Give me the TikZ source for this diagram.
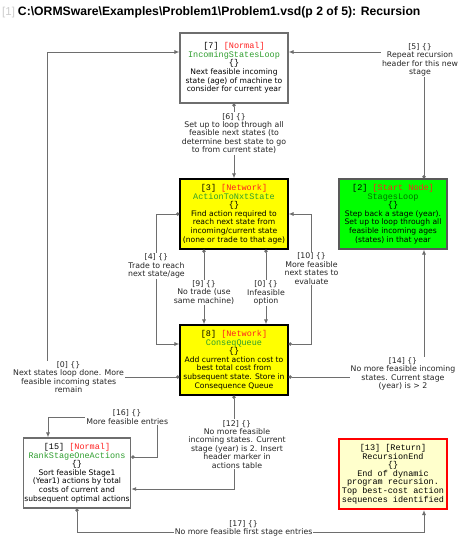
\documentclass[tikz,border=0pt]{standalone}
\usepackage{fontspec}
\setmainfont{DejaVu Sans}
\setmonofont{Liberation Mono}
\newfontfamily\titlefont{Liberation Sans}
\usetikzlibrary{arrows.meta,positioning,calc}

\definecolor{netyellow}{HTML}{FFFF00}
\definecolor{startgreen}{HTML}{00FF00}
\definecolor{retcream}{HTML}{FFFFCC}
\definecolor{namegreen}{HTML}{2E9E2E}
\definecolor{tagred}{HTML}{FF2020}
\definecolor{linegray}{HTML}{6E6E6E}

\newcommand{\mono}[1]{{\ttfamily\fontsize{8.5}{8.6}\selectfont #1}}

\begin{document}
\begin{tikzpicture}[x=1pt, y=-1pt, node distance=146pt,
  box/.style={rectangle, draw=linegray, line width=1.1pt, fill=white, minimum width=108pt, minimum height=70pt, align=center, inner sep=1pt, font=\fontsize{7.6}{8.6}\selectfont},
  netbox/.style={box, draw=black, fill=netyellow},
  startbox/.style={box, draw=gray!70!black, fill=startgreen},
  retbox/.style={box, draw=red, line width=2pt, fill=retcream},
  conn/.style={draw=linegray, line width=0.9pt, {Circle[length=3.4pt]}-{Latex[length=5pt,width=4pt]}},
  lbl/.style={fill=white, align=center, inner sep=0.8pt, text=black!85, font=\fontsize{7.8}{8.4}\selectfont}]

  \useasboundingbox (0,0) rectangle (460,538);

  \node[anchor=west, inner sep=0pt] (title) at (2,12) {\titlefont{\fontsize{11.5}{13}\selectfont\color{gray!40}[1]}\hspace{3pt}\fontsize{12.2}{14}\selectfont\bfseries C:\textbackslash ORMSware\textbackslash Examples\textbackslash Problem1\textbackslash Problem1.vsd(p 2 of 5): Recursion};

  \node[box] (incoming) at (234,68) {\mono{[7] \textcolor{tagred}{[Normal]}}\\ \mono{\textcolor{namegreen}{IncomingStatesLoop}}\\ \mono{\{\}}\\ Next feasible incoming\\ state (age) of machine to\\ consider for current year};
  \node[netbox, below of=incoming] (action) {\mono{[3] \textcolor{tagred}{[Network]}}\\ \mono{\textcolor{namegreen}{ActionToNxtState}}\\ \mono{\{\}}\\ Find action required to\\ reach next state from\\ incoming/current state\\ (none or trade to that age)};
  \node[netbox, below of=action] (conseq) {\mono{[8] \textcolor{tagred}{[Network]}}\\ \mono{\textcolor{namegreen}{ConseqQueue}}\\ \mono{\{\}}\\ Add current action cost to\\ best total cost from\\ subsequent state. Store in\\ Consequence Queue};
  \node[startbox, right of=action, node distance=159pt] (stages) {\mono{[2] \textcolor{tagred}{[Start Node]}}\\ \mono{\textcolor{green!45!black}{StagesLoop}}\\ \mono{\{\}}\\ Step back a stage (year).\\ Set up to loop through all\\ feasible incoming ages\\ (states) in that year};
  \node[box, minimum width=105pt] (rank) at (77,473) {\mono{[15] \textcolor{tagred}{[Normal]}}\\ \mono{\textcolor{namegreen}{RankStageOneActions}}\\ \mono{\{\}}\\ Sort feasible Stage1\\ (Year1) actions by total\\ costs of current and\\ subsequent optimal actions};
  \node[retbox] (recend) at (393,474) {\mono{[13] [Return]}\\ \mono{RecursionEnd}\\ \mono{\{\}}\\ \mono{End of dynamic}\\ \mono{program recursion.}\\ \mono{Top best-cost action}\\ \mono{sequences identified}};

  \draw[conn] (incoming.south) -- node[lbl, pos=0.4] {[6] \{\}\\Set up to loop through all\\feasible next states (to\\determine best state to go\\to from current state)} (action.north);
  \draw[conn] ($(stages.north)+(31,0)$) |- node[lbl, pos=0.5, xshift=-4pt, yshift=-8pt] {[5] \{\}\\Repeat recursion\\header for this new\\stage} ($(incoming.east)+(0,-16)$);
  \draw[conn] (action.west) -- ++(-23,0) |- node[lbl, pos=0.2] {[4] \{\}\\Trade to reach\\next state/age} ($(conseq.west)+(0,-16)$);
  \draw[conn] ($(action.south)+(-30,0)$) -- node[lbl, pos=0.57] {[9] \{\}\\No trade (use\\same machine)} ($(conseq.north)+(-30,0)$);
  \draw[conn] ($(action.south)+(32,0)$) -- node[lbl, pos=0.58] {[0] \{\}\\Infeasible\\option} ($(conseq.north)+(32,0)$);
  \draw[conn] ($(conseq.east)+(0,-16)$) -- ++(23,0) |- node[lbl, pos=0.29] {[10] \{\}\\More feasible\\next states to\\evaluate} (action.east);
  \draw[conn] ($(conseq.west)+(0,17)$) -- node[lbl, pos=0.84] {[0] \{\}\\Next states loop done. More\\feasible incoming states\\remain} ++(-132,0) |- ($(incoming.west)+(0,-16)$);
  \draw[conn] ($(conseq.east)+(0,17)$) -| node[lbl, pos=0.5, xshift=-21pt, yshift=3pt] {[14] \{\}\\No more feasible incoming\\states. Current stage\\(year) is > 2} ($(stages.south)+(31,0)$);
  \draw[conn] (conseq.south) |- node[lbl, pos=0.26, xshift=3pt] {[12] \{\}\\No more feasible\\incoming states. Current\\stage (year) is 2. Insert\\header marker in\\actions table} ($(rank.east)+(0,16)$);
  \draw[conn] ($(rank.east)+(0,-16)$) -- ++(26,0) -- ++(0,-40) node[lbl, xshift=-30pt] {[16] \{\}\\More feasible entries} -| ($(rank.north)+(-29,0)$);
  \draw[conn] (rank.south) -- ++(0,24) -| node[lbl, pos=0.24, yshift=4.5pt] {[17] \{\}\\No more feasible first stage entries} ($(recend.south)+(31,0)$);
\end{tikzpicture}
\end{document}
